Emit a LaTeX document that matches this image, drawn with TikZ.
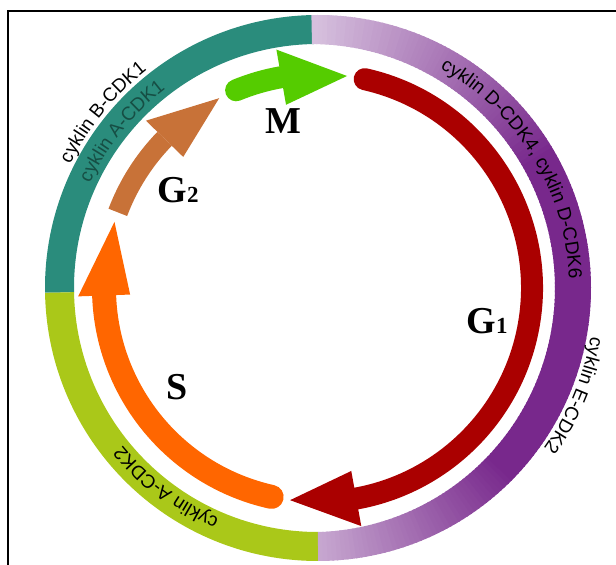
\documentclass[tikz,border=0pt]{standalone}
\usepackage{fontspec}
\setmainfont{Liberation Serif}
\setsansfont{Liberation Sans}
\usetikzlibrary{calc,decorations.text}

\definecolor{ringteal}{RGB}{42,140,124}
\definecolor{ringgreen}{RGB}{170,200,25}
\definecolor{ringpurple}{RGB}{120,40,140}
\definecolor{ringlilac}{RGB}{224,208,230}
\definecolor{textteal}{RGB}{22,78,68}
\definecolor{gonered}{RGB}{170,0,0}
\definecolor{sorange}{RGB}{255,102,0}
\definecolor{gtwobrown}{RGB}{200,114,56}
\definecolor{mgreen}{RGB}{85,204,0}

\newcommand\phaseidx[1]{{\fontsize{23}{23}\selectfont #1}}

\tikzset{
  phase/.style={font=\bfseries\fontsize{38}{38}\selectfont, inner sep=0pt},
  ringtext/.style={decorate, decoration={text along path, text align=center, text={#1}}}
}

\begin{document}
\begin{tikzpicture}
      [x=1pt, y=1pt]
      \useasboundingbox (0,0) rectangle (616,565);
      \coordinate (c) at (318,277);
      % frame
      \draw[line width=2] (8,-5) -- (8,554) -- (625,554);
      % outer ring
      \draw[ringteal, line width=29] ($(c)+(91:258.5)$) arc[start angle=91, end angle=181, radius=258.5];
      \draw[ringgreen, line width=29] ($(c)+(181:258.5)$) arc[start angle=181, end angle=270, radius=258.5];
      \foreach \a in {-90,...,90}{
        \pgfmathtruncatemacro\p{\a>0 ? 10+90*min(1,(90-\a)/60) : 25+75*min(1,(90+\a)/45)}
        \pgfmathsetmacro\w{29+7*cos(\a)}
        \pgfmathsetmacro\rr{273-\w/2}
        \draw[color=ringpurple!\p!ringlilac, line width=\w] ($(c)+(\a:\rr)$) arc[start angle=\a, end angle=\a+1.4, radius=\rr];
      }
      % ring labels
      \path[ringtext={|\sffamily\fontsize{19}{19}\selectfont|cyklin D-CDK4, cyklin D-CDK6}]
        ($(c)+(76.5:251)$) arc[start angle=76.5, end angle=-13.5, radius=251];
      \path[ringtext={|\sffamily\fontsize{19}{19}\selectfont|cyklin E-CDK2}]
        ($(c)+(7.25:277)$) arc[start angle=7.25, end angle=-52.75, radius=277];
      \path[ringtext={|\sffamily\fontsize{19}{19}\selectfont|cyklin A-CDK2}]
        ($(c)+(262.8:251)$) arc[start angle=262.8, end angle=202.8, radius=251];
      \path[ringtext={|\sffamily\fontsize{19}{19}\selectfont\color{textteal}|cyklin A-CDK1}]
        ($(c)+(171.4:251)$) arc[start angle=171.4, end angle=111.4, radius=251];
      \path[ringtext={|\sffamily\fontsize{19}{19}\selectfont|cyklin B-CDK1}]
        ($(c)+(170.8:277)$) arc[start angle=170.8, end angle=110.8, radius=277];
      % phase arrows: start/base/tip/colour/width/half head/cap
      \foreach \s/\e/\t/\col/\w/\h/\cp in {77.4/-79.7/-97.5/gonered/22/28/round,
          257.5/182/162/sorange/24/26/round, 159.3/135.8/117.5/gtwobrown/20/26/butt,
          112.5/99.9/82.2/mgreen/22/28/round}{
        \draw[\col, line width=\w, line cap=\cp] ($(c)+(\s:214)$) arc[start angle=\s, end angle=\e, radius=214];
        \fill[\col] ($(c)+(\e:214-\h)$) -- ($(c)+(\t:214)$) -- ($(c)+(\e:214+\h)$) -- cycle;
      }
      % phase names
      \node[phase] (m) at (283,444) {M};
      \node[phase] (g2) at (178,375) {G\phaseidx{2}};
      \node[phase] (g1) at (487,244) {G\phaseidx{1}};
      \node[phase] (s) at (177,178) {S};
\end{tikzpicture}
\end{document}
